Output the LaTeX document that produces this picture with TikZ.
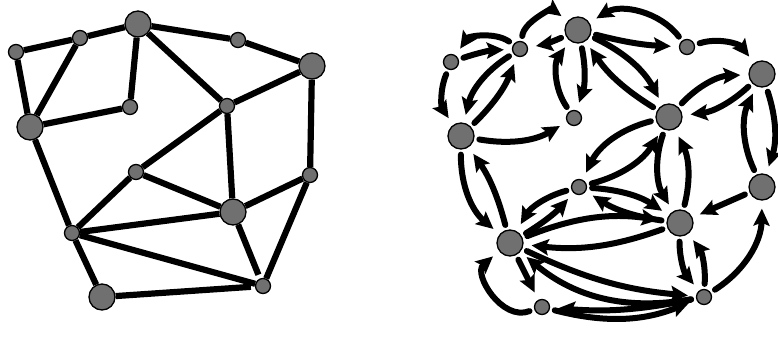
\documentclass[tikz,border=0pt]{standalone}
\usepackage{tikz}
\usetikzlibrary{arrows.meta}

\begin{document}
\begin{tikzpicture}[x=1pt,y=-1pt,>={Stealth[length=17pt,width=16pt,inset=3pt]},
  vtx/.style={circle,draw=black,line width=1.3pt,fill=black!56,inner sep=0pt},
  small/.style={vtx,minimum size=15pt},
  big/.style={vtx,minimum size=26pt},
  edge/.style={line width=6.2pt},
  arc/.style={->,line width=6pt,line cap=round,shorten <=5pt,shorten >=8pt}]
\useasboundingbox (0,0) rectangle (778,339);
\node[small] (a) at (16,52) {};
\node[small] (b) at (80,38) {};
\node[big] (c) at (138,24) {};
\node[small] (d) at (238,40) {};
\node[big] (e) at (312,66) {};
\node[big] (f) at (30,127) {};
\node[small] (g) at (130,107) {};
\node[small] (h) at (227,106) {};
\node[small] (i) at (136,172) {};
\node[small] (j) at (310,175) {};
\node[big] (k) at (233,212) {};
\node[small] (l) at (72,233) {};
\node[big] (m) at (102,297) {};
\node[small] (n) at (263,286) {};
\foreach \u/\v in {a/b,b/c,a/f,b/f,c/g,g/f,c/h,c/d,d/e,e/h,e/j,h/i,h/k,i/k,i/l,f/l,l/k,l/n,l/m,j/k,j/n}
  \draw[edge] (\u) -- (\v);
\draw[edge,shorten >=4pt] (m) -- (n);
\draw[edge,shorten >=4pt] (k) -- (n);

\node[small] (A) at (451,62) {};
\node[small] (B) at (520,49) {};
\node[big] (C) at (578,30) {};
\node[small] (D) at (687,47) {};
\node[big] (E) at (762,74) {};
\node[big] (F) at (461,136) {};
\node[small] (G) at (574,118) {};
\node[big] (H) at (669,117) {};
\node[small] (I) at (579,187) {};
\node[big] (J) at (762,187) {};
\node[big] (K) at (680,223) {};
\node[big] (L) at (510,243) {};
\node[small] (M) at (542,307) {};
\node[small] (N) at (704,297) {};
\foreach \u/\v/\b in {A/B/8,B/A/-45,B/C/60,C/B/7,A/F/-28,B/F/-22,F/B/-12,
    D/C/-42,C/D/-6,C/H/18,H/C/12,C/G/15,G/C/35,D/E/35,H/E/22,E/H/18,
    J/E/25,E/J/18,H/K/-25,K/H/-20,J/K/0,F/G/-20,H/I/-25,I/H/-22,
    I/K/15,K/I/12,L/I/-8,I/L/-22,F/L/-25,L/F/-10,L/K/15,K/L/13,
    L/N/-10,N/L/25,L/M/0,M/N/-18,N/M/8,K/N/-20,N/K/-20,N/J/-28}
  \draw[arc] (\u) to[bend left=\b] (\v);
\draw[arc] (M) to[bend left=80,looseness=1.3] (L);
\end{tikzpicture}
\end{document}
